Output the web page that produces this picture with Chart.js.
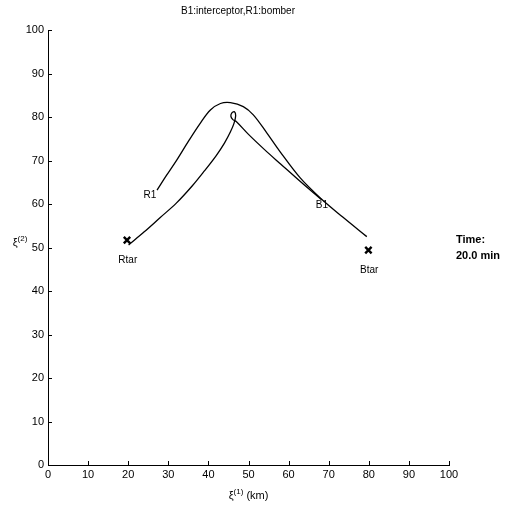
<!DOCTYPE html>
<html>
<head>
<meta charset="utf-8">
<script src="https://cdn.jsdelivr.net/npm/chart.js@4.4.0/dist/chart.umd.min.js"></script>
<style>
  html, body { margin: 0; padding: 0; background: #fff; }
  #wrap { width: 511px; height: 507px; }
</style>
</head>
<body>
<div id="wrap"><canvas id="chart" width="511" height="507"></canvas></div>
<script>
// --- DATA ---
// R1 (bomber) trail
const bomberX = [27.2, 29.5, 32.1, 35.0, 38.0, 40.5, 43.0, 45.5, 48.7, 51.2, 54.6, 57.9, 62.9, 67.9, 73.5, 79.5];
const bomberY = [63.2, 66.5, 70.1, 74.4, 78.6, 81.6, 83.1, 83.3, 82.4, 80.5, 76.3, 72.0, 66.0, 61.4, 57.0, 52.5];
// B1 (interceptor) trail, with the small loop near the top
const interceptorX = [20.1, 24.0, 28.0, 32.0, 36.0, 39.0, 42.0, 44.0, 45.5, 46.4, 46.8, 46.5, 45.9, 45.6, 46.1, 47.0, 50.0, 54.0, 58.0, 63.0, 68.3];
const interceptorY = [50.6, 53.6, 56.9, 60.2, 64.2, 67.6, 71.2, 74.0, 76.6, 78.6, 80.3, 81.2, 81.0, 80.2, 79.4, 78.9, 76.0, 72.5, 69.2, 65.1, 60.9];
// targets (X marks)
const targetX = [19.7, 79.9];
const targetY = [51.7, 49.4];
// text labels placed in data space
const labelText = ['R1', 'B1', 'Rtar', 'Btar'];
const labelX = [25.4, 68.3, 19.9, 80.1];
const labelY = [62.1, 59.8, 47.1, 44.8];
// tick values
const tickValues = [0, 10, 20, 30, 40, 50, 60, 70, 80, 90, 100];

const FONT = '"Liberation Sans", Arial, Helvetica, sans-serif';

const toPoints = (xs, ys) => xs.map((x, i) => ({ x: x, y: ys[i] }));

// draws "ξ" with a raised "(n)" and an optional tail, centred on cx
const drawXiLabel = (ctx, cx, cy, sup, tail) => {
    ctx.textBaseline = 'alphabetic';
    ctx.textAlign = 'left';
    ctx.font = '11px ' + FONT;
    const wXi = ctx.measureText('\u03BE').width;
    const wTail = tail ? ctx.measureText(tail).width : 0;
    ctx.font = '8px ' + FONT;
    const wSup = ctx.measureText(sup).width;
    let x = cx - (wXi + wSup + wTail) / 2;
    ctx.font = '11px ' + FONT;
    ctx.fillText('\u03BE', x, cy + 4);
    x += wXi;
    ctx.font = '8px ' + FONT;
    ctx.fillText(sup, x, cy - 1);
    x += wSup;
    if (tail) {
        ctx.font = '11px ' + FONT;
        ctx.fillText(tail, x, cy + 4);
    }
};

// --- EXTRA DRAWING: inward ticks, labels, titles ---
const annotations = {
    id: 'annotations',
    afterDraw(chart) {
        const ctx = chart.ctx;
        const xs = chart.scales.x;
        const ys = chart.scales.y;
        const area = chart.chartArea;
        ctx.save();

        // inward tick marks
        ctx.strokeStyle = '#000';
        ctx.lineWidth = 1;
        ctx.beginPath();
        tickValues.forEach(v => {
            const px = Math.round(xs.getPixelForValue(v)) + 0.5;
            ctx.moveTo(px, area.bottom);
            ctx.lineTo(px, area.bottom - 4);
            const py = Math.round(ys.getPixelForValue(v)) + 0.5;
            ctx.moveTo(area.left, py);
            ctx.lineTo(area.left + 4, py);
        });
        ctx.stroke();

        // point labels
        ctx.fillStyle = '#000';
        ctx.font = '10px ' + FONT;
        ctx.textAlign = 'center';
        ctx.textBaseline = 'middle';
        labelText.forEach((t, i) => {
            ctx.fillText(t, xs.getPixelForValue(labelX[i]), ys.getPixelForValue(labelY[i]));
        });

        // title
        ctx.font = '10px ' + FONT;
        ctx.fillText('B1:interceptor,R1:bomber', 238, 11);

        // axis labels
        drawXiLabel(ctx, (area.left + area.right) / 2, 495, '(1)', ' (km)');
        drawXiLabel(ctx, 20, 242, '(2)', '');

        // time box
        ctx.font = 'bold 11px ' + FONT;
        ctx.textAlign = 'left';
        ctx.textBaseline = 'middle';
        ctx.fillText('Time:', 456, 240);
        ctx.fillText('20.0 min', 456, 256);

        ctx.restore();
    }
};

const ctx = document.getElementById('chart').getContext('2d');
new Chart(ctx, {
    type: 'line',
    data: {
        datasets: [
            {
                label: 'R1',
                data: toPoints(bomberX, bomberY),
                borderColor: '#000',
                borderWidth: 1.3,
                pointRadius: 0,
                tension: 0.35,
                fill: false,
            },
            {
                label: 'B1',
                data: toPoints(interceptorX, interceptorY),
                borderColor: '#000',
                borderWidth: 1.3,
                pointRadius: 0,
                tension: 0.35,
                fill: false,
            },
            {
                type: 'scatter',
                label: 'targets',
                data: toPoints(targetX, targetY),
                showLine: false,
                pointStyle: 'crossRot',
                pointRadius: 4.5,
                borderWidth: 2.4,
                borderColor: '#000',
                backgroundColor: '#000',
            }
        ]
    },
    options: {
        responsive: false,
        animation: false,
        devicePixelRatio: 1,
        layout: { padding: { top: 30, right: 62, left: 0, bottom: 0 } },
        plugins: {
            legend: { display: false },
            tooltip: { enabled: false },
            title: { display: false },
        },
        scales: {
            x: {
                type: 'linear',
                min: 0,
                max: 100,
                afterFit: (scale) => { scale.height = 42; },
                grid: { drawOnChartArea: false, drawTicks: false },
                border: { color: '#000', width: 1 },
                ticks: {
                    stepSize: 10,
                    padding: 3,
                    color: '#000',
                    font: { family: FONT, size: 11 },
                    maxRotation: 0,
                },
            },
            y: {
                type: 'linear',
                min: 0,
                max: 100,
                afterFit: (scale) => { scale.width = 48; },
                grid: { drawOnChartArea: false, drawTicks: false },
                border: { color: '#000', width: 1 },
                ticks: {
                    stepSize: 10,
                    padding: 4,
                    color: '#000',
                    font: { family: FONT, size: 11 },
                },
            }
        }
    },
    plugins: [annotations]
});
</script>
</body>
</html>
